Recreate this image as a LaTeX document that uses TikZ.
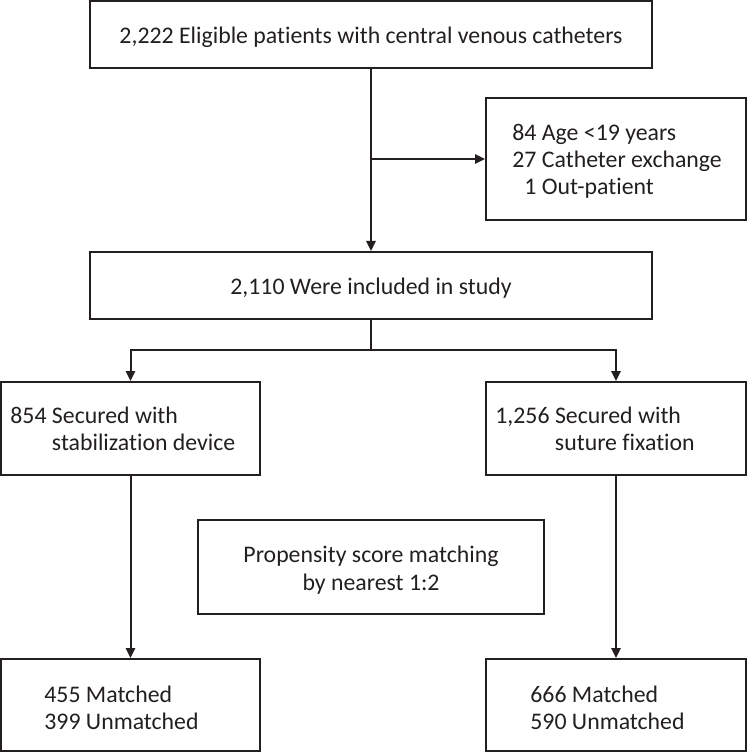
\documentclass[tikz,border=0pt]{standalone}
\usepackage{fontspec}
\setmainfont[Ligatures=NoCommon]{Carlito}
\usetikzlibrary{arrows.meta, positioning}
\definecolor{FlowInk}{RGB}{35, 31, 32}

\tikzset{
    flowbox/.style={draw=FlowInk, line width=1pt, inner sep=0pt},
    flowlabel/.style={text=FlowInk, inner sep=0pt, yshift=-1.5pt, align=center,
        font=\fontsize{11.9pt}{13.7pt}\selectfont},
    flowtext/.style={flowlabel, anchor=west, align=left},
    flowarrow/.style={draw=FlowInk, line width=1pt, -{Triangle[length=5pt, width=4.6pt]}},
    flowline/.style={draw=FlowInk, line width=1pt}
}

\begin{document}
\begin{tikzpicture}[x=0.5pt, y=-0.5pt]

        % Frame (pixel grid of the reference)
        \useasboundingbox (0,0) rectangle (747,753);

        % Enrolment
        \node[flowbox, minimum width=281pt, minimum height=33.5pt] (eligible) at (371,34.5) {};
        \node[flowlabel] (eligtext) at (eligible.center)
            {2,222 Eligible patients with central venous catheters};
        \node[flowbox, minimum width=130pt, minimum height=61pt] (excluded) at (616,159) {};
        \node[flowtext] (excltext) at ([xshift=13.5pt]excluded.west)
            {\begin{tabular}{@{}r@{ }l@{}}84 & Age <19 years\\ 27 & Catheter exchange\\ 1 & Out-patient\end{tabular}};
        \node[flowbox, minimum width=281pt, minimum height=33.5pt] (included) at (371,285.5) {};
        \node[flowlabel] (incltext) at (included.center) {2,110 Were included in study};

        % Allocation by securement
        \node[flowbox, minimum width=129.5pt, minimum height=46.5pt] (device) at (130.5,428.5) {};
        \node[flowtext] (devtext) at ([xshift=5pt]device.west)
            {\begin{tabular}{@{}l@{ }l@{}}854 & Secured with\\ & stabilization device\end{tabular}};
        \node[flowbox, minimum width=130pt, minimum height=46.5pt] (suture) at (616,428.5) {};
        \node[flowtext] (sutext) at ([xshift=5pt]suture.west)
            {\begin{tabular}{@{}l@{ }l@{}}1,256 & Secured with\\ & suture fixation\end{tabular}};

        % Matching
        \node[flowbox, minimum width=173pt, minimum height=47pt] (psm) at (371,567) {};
        \node[flowlabel] (psmtext) at (psm.center) {Propensity score matching\\by nearest 1:2};
        \node[flowbox, minimum width=129.5pt, minimum height=46pt] (devmatch) at (130.5,705) {};
        \node[flowtext] (devmtext) at ([xshift=22pt]devmatch.west) {455 Matched\\399 Unmatched};
        \node[flowbox, minimum width=130pt, minimum height=46pt] (sutmatch) at (616,705) {};
        \node[flowtext] (sutmtext) at ([xshift=22.5pt]sutmatch.west) {666 Matched\\590 Unmatched};

        % Connectors
        \coordinate (split) at (371,350);
        \draw[flowarrow] (eligible.south) -- (included.north);
        \draw[flowarrow] (eligible.south |- excluded.west) -- (excluded.west);
        \draw[flowline] (included.south) -- (split);
        \draw[flowarrow] (split) -| (device.north);
        \draw[flowarrow] (split) -| (suture.north);
        \draw[flowarrow] (device.south) -- (devmatch.north);
        \draw[flowarrow] (suture.south) -- (sutmatch.north);

    \end{tikzpicture}
\end{document}
